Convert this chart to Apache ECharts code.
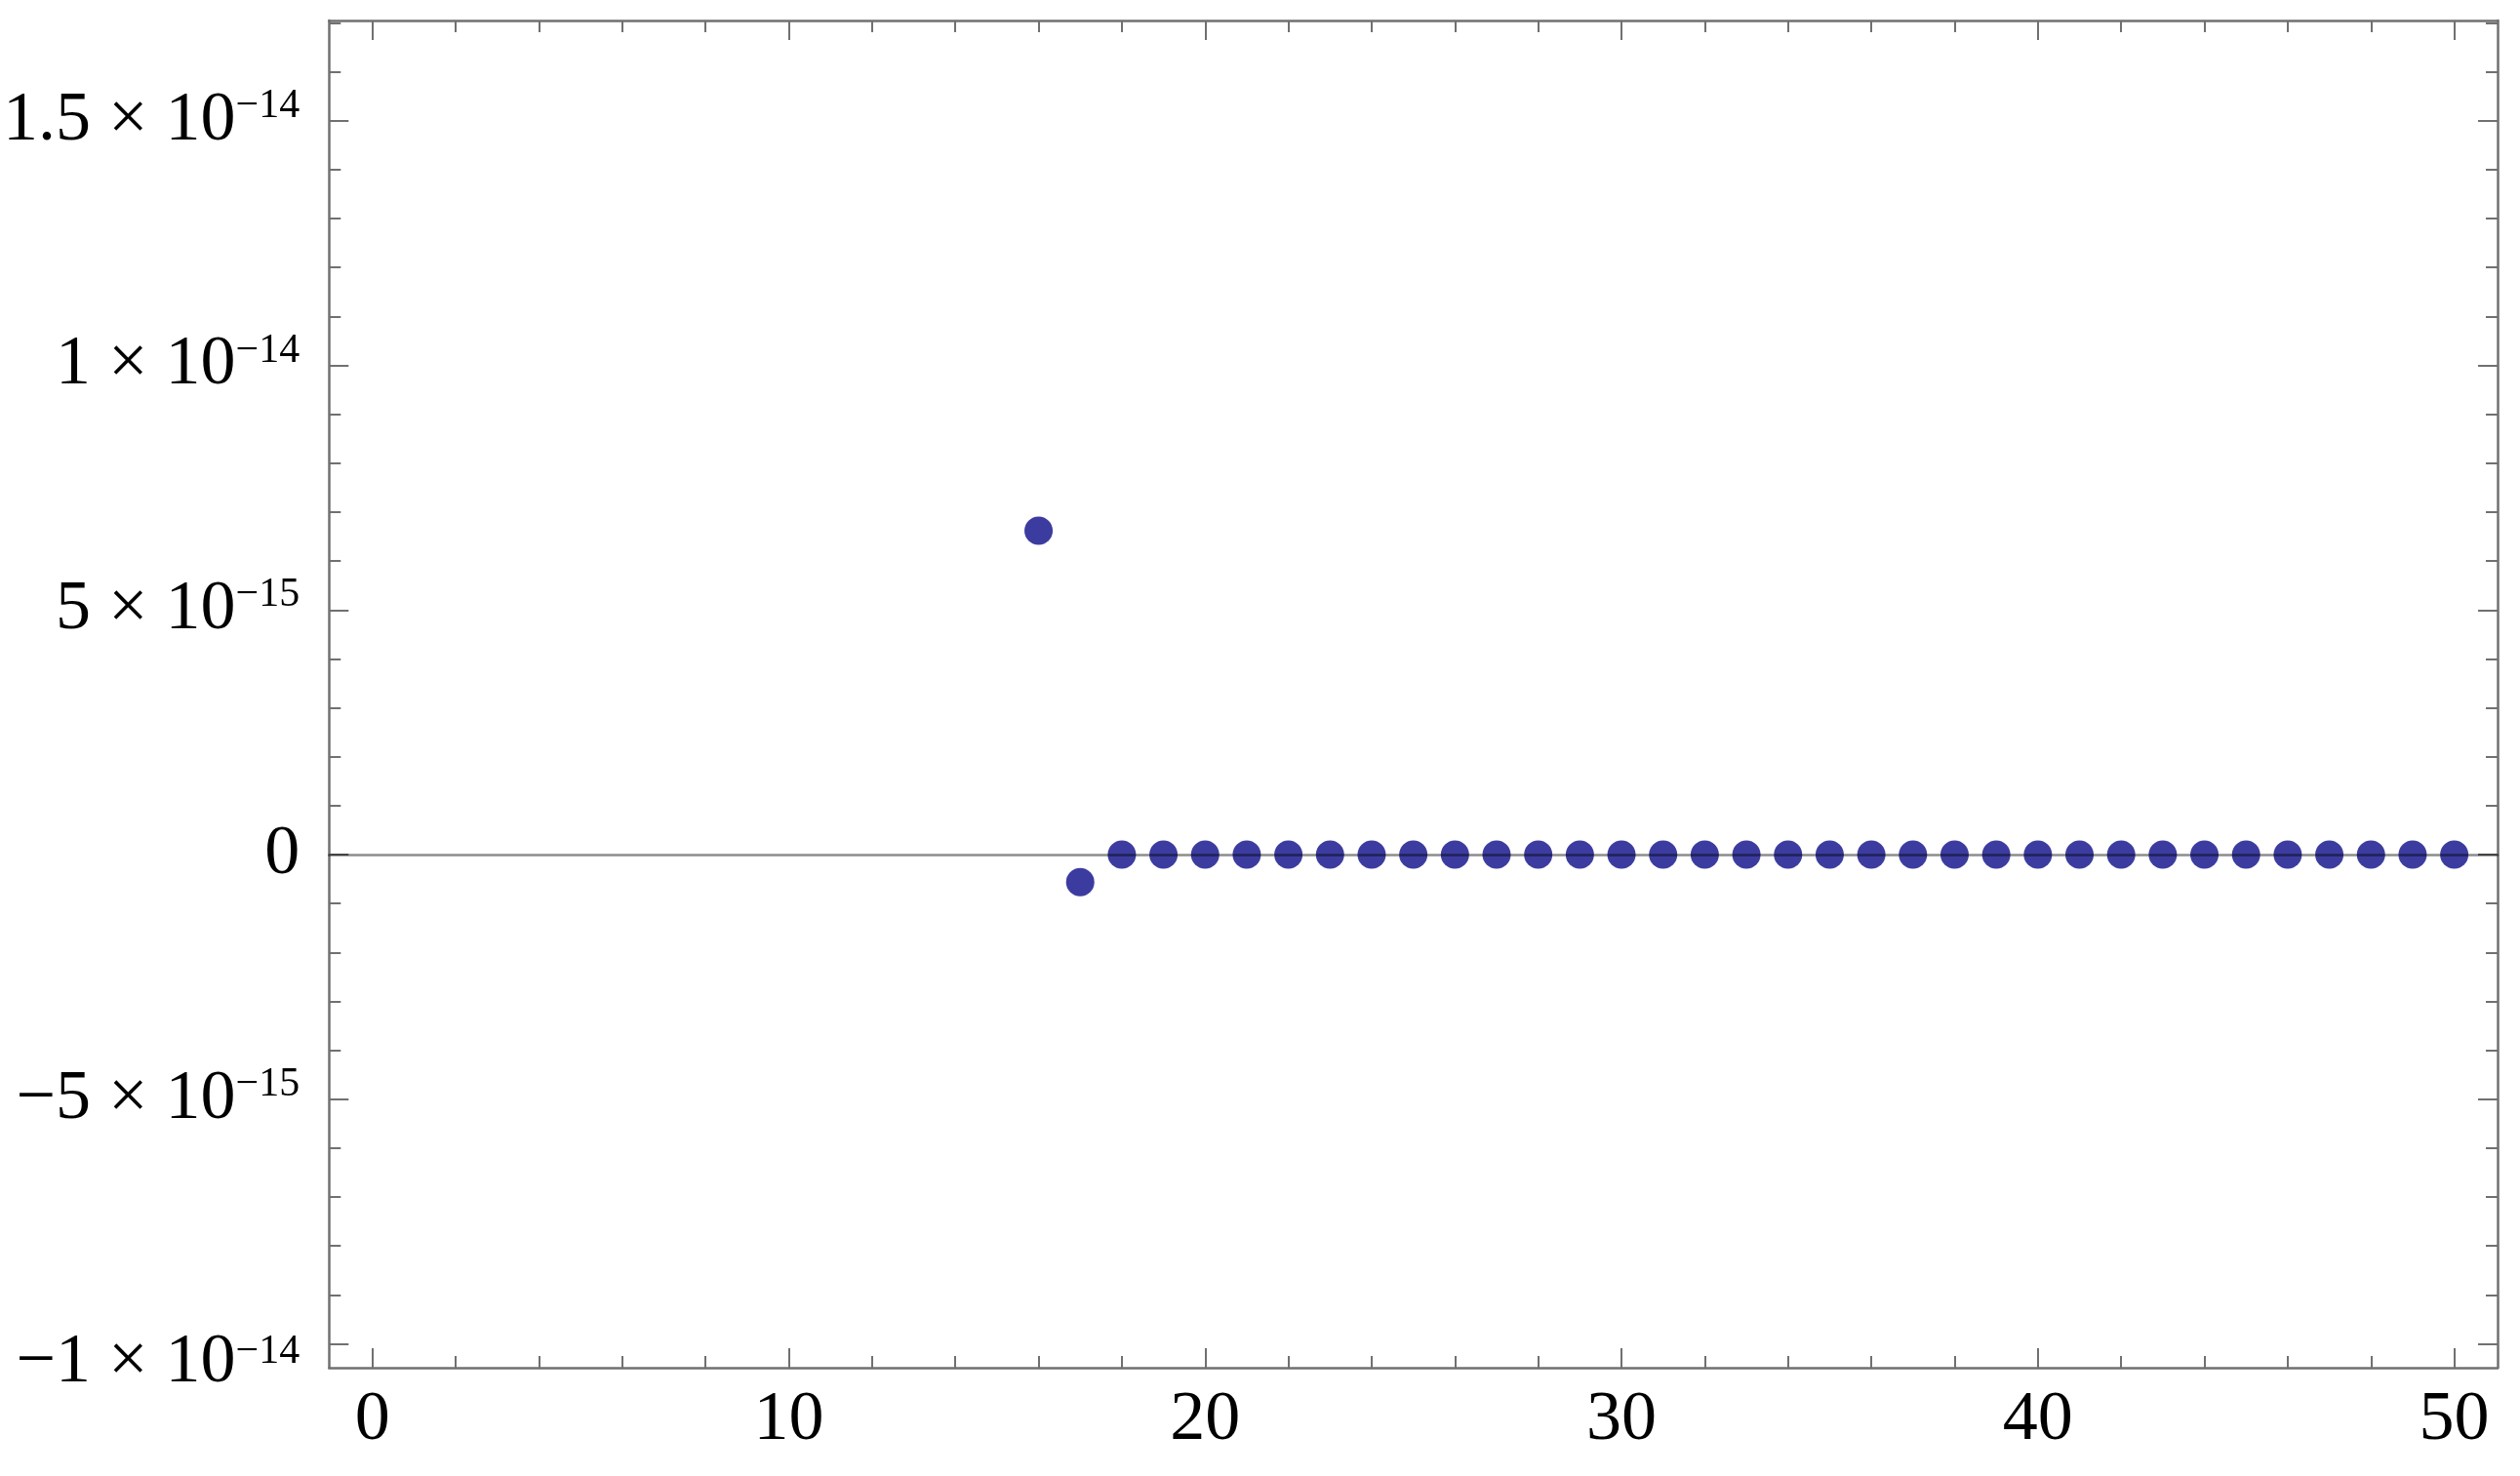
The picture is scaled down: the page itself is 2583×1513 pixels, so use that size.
<!DOCTYPE html>
<html>
<head>
<meta charset="utf-8">
<script src="https://cdn.jsdelivr.net/npm/echarts@6/dist/echarts.min.js"></script>
<style>
  html, body { margin: 0; padding: 0; background: #fff; }
  #chart { width: 2583px; height: 1513px; }
</style>
</head>
<body>
<div id="chart"></div>
<script>
// values on y are in units of 1e-15
const xValues = [16, 17, 18, 19, 20, 21, 22, 23, 24, 25, 26, 27, 28, 29, 30, 31, 32, 33,
  34, 35, 36, 37, 38, 39, 40, 41, 42, 43, 44, 45, 46, 47, 48, 49, 50];
const yValues = [6.62, -0.565, 0, 0, 0, 0, 0, 0, 0, 0, 0, 0, 0, 0, 0, 0, 0, 0,
  0, 0, 0, 0, 0, 0, 0, 0, 0, 0, 0, 0, 0, 0, 0, 0, 0];

const xMajorTicks = [0, 10, 20, 30, 40, 50];
const xMinorTicks = [2, 4, 6, 8, 12, 14, 16, 18, 22, 24, 26, 28, 32, 34, 36, 38, 42, 44, 46, 48];
const yMajorTicks = [-10, -5, 0, 5, 10, 15];
const yMajorMantissa = ['−1', '−5', '0', '5', '1', '1.5'];
const yMajorExponent = ['−14', '−15', '', '−15', '−14', '−14'];
const yMinorTicks = [-9, -8, -7, -6, -4, -3, -2, -1, 1, 2, 3, 4, 6, 7, 8, 9, 11, 12, 13, 14, 16, 17];

const X_MIN = -1.04, X_MAX = 51.04;
const Y_MIN = -10.49, Y_MAX = 17.05;

const FRAME = '#707070';
const FONT = 'Liberation Serif';
const rich = {
  b: { fontSize: 72, lineHeight: 72, fontFamily: FONT, color: '#000' },
  s: { fontSize: 42, lineHeight: 42, fontFamily: FONT, color: '#000', verticalAlign: 'top' },
  // bottom label sits a little lower, as in the original
  bl: { fontSize: 72, lineHeight: 72, fontFamily: FONT, color: '#000', padding: [40, 0, 0, 0] },
  sl: { fontSize: 42, lineHeight: 42, fontFamily: FONT, color: '#000', verticalAlign: 'top', padding: [24, 0, 0, 0] },
};

function yLabel(v) {
  const i = yMajorTicks.findIndex((t) => Math.abs(t - v) < 1e-9);
  if (i < 0) return '';
  if (!yMajorExponent[i]) return `{b|${yMajorMantissa[i]}}`;
  const [b, s] = i === 0 ? ['bl', 'sl'] : ['b', 's'];
  return `{${b}|${yMajorMantissa[i]} × 10}{${s}|${yMajorExponent[i]}}`;
}

function frameAxis(pos, ticks, len, opts = {}) {
  const horiz = pos === 'top' || pos === 'bottom';
  return {
    type: 'value',
    position: pos,
    min: horiz ? X_MIN : Y_MIN,
    max: horiz ? X_MAX : Y_MAX,
    axisLine: { show: !!opts.line, onZero: false, lineStyle: { color: FRAME, width: 2.5 } },
    axisTick: { show: true, inside: true, length: len, customValues: ticks, lineStyle: { color: FRAME, width: 2 } },
    axisLabel: opts.label || { show: false },
    splitLine: { show: false },
  };
}

const chart = echarts.init(document.getElementById('chart'));
chart.setOption({
  animation: false,
  backgroundColor: '#fff',
  grid: { left: 336, right: 23, top: 21, bottom: 111, containLabel: false },
  xAxis: [
    frameAxis('bottom', xMajorTicks, 20, {
      line: true,
      label: { show: true, customValues: xMajorTicks, margin: 18, formatter: (v) => `{b|${v}}`, rich },
    }),
    frameAxis('bottom', xMinorTicks, 12),
    frameAxis('top', xMajorTicks, 20, { line: true }),
    frameAxis('top', xMinorTicks, 12),
    {
      // zero line, drawn above the points
      type: 'value', position: 'bottom', min: X_MIN, max: X_MAX, z: 10,
      axisLine: { show: true, onZero: true, lineStyle: { color: 'rgba(0,0,0,0.45)', width: 2.5 } },
      axisTick: { show: false }, axisLabel: { show: false }, splitLine: { show: false },
    },
  ],
  yAxis: [
    frameAxis('left', yMajorTicks, 20, {
      line: true,
      label: { show: true, customValues: yMajorTicks, margin: 30, formatter: yLabel, rich },
    }),
    frameAxis('left', yMinorTicks, 12),
    frameAxis('right', yMajorTicks, 20, { line: true }),
    frameAxis('right', yMinorTicks, 12),
  ],
  series: [
    {
      type: 'scatter',
      xAxisIndex: 0,
      yAxisIndex: 0,
      symbol: 'circle',
      symbolSize: 29,
      itemStyle: { color: '#3c3ca0', opacity: 1 },
      data: xValues.map((x, i) => [x, yValues[i]]),
    },
  ],
});
</script>
</body>
</html>
